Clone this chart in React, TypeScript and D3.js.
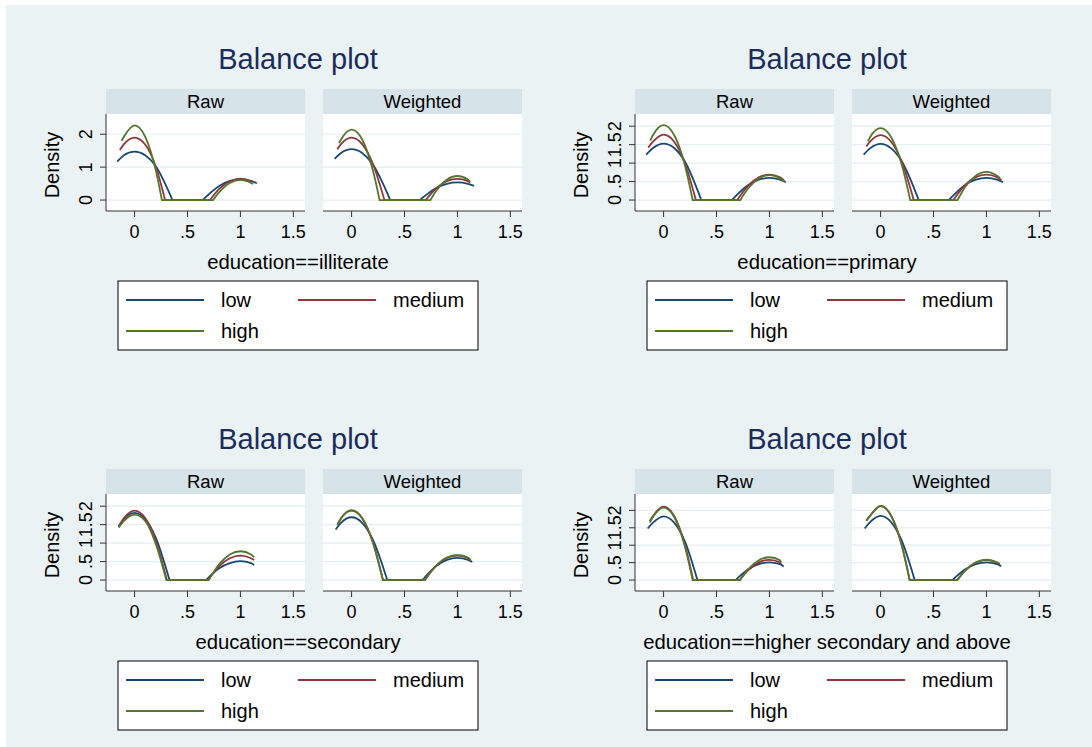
import * as d3 from "d3";

type Pt = [number, number];

// tick labels / categories
const xTicks = [0, 0.5, 1, 1.5];
const xTickLabels = ["0", ".5", "1", "1.5"];
const yTicksCoarse = [0, 1, 2];
const yTicksFine = [0, 0.5, 1, 1.5, 2];
const fmtY = (v: number) => (v === 0.5 ? ".5" : v === 1.5 ? "1.5" : String(v));
const levels = ["low", "medium", "high"];
const facets = ["Raw", "Weighted"];
const groupTitles = [
  "education==illiterate",
  "education==primary",
  "education==secondary",
  "education==higher secondary and above",
];

// densities: left bump ... zero, zero ... right bump
const illitRawLow: Pt[] = [[-0.164, 1.17], [-0.1, 1.36], [0, 1.47], [0.1, 1.36], [0.2, 1.03], [0.358, 0], [0.642, 0], [0.8, 0.43], [0.9, 0.58], [1, 0.63], [1.1, 0.58], [1.155, 0.51]];
const illitRawMed: Pt[] = [[-0.139, 1.52], [-0.1, 1.7], [0, 1.9], [0.1, 1.69], [0.2, 1.02], [0.288, 0], [0.712, 0], [0.8, 0.34], [0.9, 0.57], [1, 0.65], [1.1, 0.57], [1.11, 0.54]];
const illitRawHigh: Pt[] = [[-0.123, 1.8], [-0.1, 1.93], [0, 2.27], [0.1, 1.93], [0.2, 0.91], [0.258, 0], [0.742, 0], [0.8, 0.24], [0.9, 0.52], [1, 0.61], [1.1, 0.52], [1.12, 0.49]];
const illitWtLow: Pt[] = [[-0.16, 1.25], [-0.1, 1.43], [0, 1.55], [0.1, 1.43], [0.2, 1.085], [0.365, 0], [0.645, 0], [0.8, 0.365], [0.9, 0.493], [1, 0.535], [1.1, 0.493], [1.157, 0.43]];
const illitWtMed: Pt[] = [[-0.135, 1.54], [-0.1, 1.7], [0, 1.9], [0.1, 1.7], [0.2, 1.11], [0.31, 0], [0.7, 0], [0.8, 0.358], [0.9, 0.573], [1, 0.645], [1.1, 0.573], [1.12, 0.53]];
const illitWtHigh: Pt[] = [[-0.119, 1.73], [-0.1, 1.84], [0, 2.14], [0.1, 1.84], [0.2, 0.92], [0.265, 0], [0.745, 0], [0.8, 0.28], [0.9, 0.62], [1, 0.73], [1.1, 0.62], [1.12, 0.56]];

const primRawLow: Pt[] = [[-0.164, 1.23], [-0.1, 1.41], [0, 1.53], [0.1, 1.41], [0.2, 1.05], [0.356, 0], [0.644, 0], [0.8, 0.41], [0.9, 0.55], [1, 0.6], [1.1, 0.55], [1.155, 0.48]];
const primRawMed: Pt[] = [[-0.145, 1.42], [-0.1, 1.58], [0, 1.77], [0.1, 1.58], [0.2, 1.01], [0.305, 0], [0.695, 0], [0.8, 0.393], [0.9, 0.616], [1, 0.69], [1.1, 0.616], [1.136, 0.54]];
const primRawHigh: Pt[] = [[-0.126, 1.61], [-0.1, 1.76], [0, 2.03], [0.1, 1.76], [0.2, 0.956], [0.275, 0], [0.725, 0], [0.8, 0.318], [0.9, 0.586], [1, 0.675], [1.1, 0.586], [1.145, 0.5]];
const primWtLow: Pt[] = [[-0.16, 1.23], [-0.1, 1.4], [0, 1.52], [0.1, 1.4], [0.2, 1.05], [0.36, 0], [0.643, 0], [0.8, 0.41], [0.9, 0.553], [1, 0.6], [1.1, 0.553], [1.157, 0.484]];
const primWtMed: Pt[] = [[-0.135, 1.45], [-0.1, 1.58], [0, 1.76], [0.1, 1.58], [0.2, 1.04], [0.313, 0], [0.687, 0], [0.8, 0.41], [0.9, 0.62], [1, 0.69], [1.1, 0.62], [1.141, 0.54]];
const primWtHigh: Pt[] = [[-0.119, 1.59], [-0.1, 1.7], [0, 1.95], [0.1, 1.7], [0.2, 0.955], [0.28, 0], [0.727, 0], [0.8, 0.36], [0.9, 0.66], [1, 0.765], [1.1, 0.66], [1.128, 0.6]];

const secRawLow: Pt[] = [[-0.15, 1.44], [-0.1, 1.65], [0, 1.82], [0.1, 1.65], [0.2, 1.15], [0.33, 0], [0.675, 0], [0.8, 0.32], [0.9, 0.46], [1, 0.51], [1.1, 0.46], [1.13, 0.41]];
const secRawMed: Pt[] = [[-0.15, 1.46], [-0.1, 1.68], [0, 1.88], [0.1, 1.68], [0.2, 1.07], [0.305, 0], [0.695, 0], [0.8, 0.376], [0.9, 0.59], [1, 0.66], [1.1, 0.59], [1.13, 0.54]];
const secRawHigh: Pt[] = [[-0.15, 1.42], [-0.1, 1.6], [0, 1.77], [0.1, 1.6], [0.2, 0.98], [0.3, 0], [0.7, 0], [0.8, 0.43], [0.9, 0.69], [1, 0.78], [1.1, 0.69], [1.13, 0.62]];
const secWtLow: Pt[] = [[-0.15, 1.37], [-0.1, 1.55], [0, 1.7], [0.1, 1.55], [0.2, 1.1], [0.337, 0], [0.67, 0], [0.8, 0.38], [0.9, 0.545], [1, 0.6], [1.1, 0.545], [1.14, 0.49]];
const secWtMed: Pt[] = [[-0.134, 1.5], [-0.1, 1.67], [0, 1.88], [0.1, 1.67], [0.2, 1.03], [0.297, 0], [0.69, 0], [0.8, 0.39], [0.9, 0.6], [1, 0.665], [1.1, 0.6], [1.125, 0.53]];
const secWtHigh: Pt[] = [[-0.134, 1.49], [-0.1, 1.67], [0, 1.89], [0.1, 1.68], [0.2, 1.03], [0.295, 0], [0.693, 0], [0.8, 0.39], [0.9, 0.61], [1, 0.675], [1.1, 0.61], [1.125, 0.53]];

const highRawLow: Pt[] = [[-0.15, 1.48], [-0.1, 1.65], [0, 1.83], [0.1, 1.65], [0.2, 1.12], [0.32, 0], [0.68, 0], [0.8, 0.31], [0.9, 0.455], [1, 0.505], [1.1, 0.455], [1.134, 0.39]];
const highRawMed: Pt[] = [[-0.131, 1.69], [-0.1, 1.84], [0, 2.11], [0.1, 1.84], [0.2, 1.03], [0.28, 0], [0.72, 0], [0.8, 0.284], [0.9, 0.506], [1, 0.58], [1.1, 0.506], [1.11, 0.45]];
const highRawHigh: Pt[] = [[-0.131, 1.65], [-0.1, 1.81], [0, 2.08], [0.1, 1.81], [0.2, 0.98], [0.275, 0], [0.722, 0], [0.8, 0.316], [0.9, 0.57], [1, 0.655], [1.1, 0.57], [1.11, 0.51]];
const highWtLow: Pt[] = [[-0.15, 1.48], [-0.1, 1.66], [0, 1.84], [0.1, 1.66], [0.2, 1.13], [0.322, 0], [0.678, 0], [0.8, 0.31], [0.9, 0.455], [1, 0.505], [1.1, 0.455], [1.14, 0.4]];
const highWtMed: Pt[] = [[-0.134, 1.71], [-0.1, 1.84], [0, 2.12], [0.1, 1.84], [0.2, 1.0], [0.275, 0], [0.725, 0], [0.8, 0.27], [0.9, 0.5], [1, 0.58], [1.1, 0.5], [1.125, 0.46]];
const highWtHigh: Pt[] = [[-0.134, 1.7], [-0.1, 1.84], [0, 2.13], [0.1, 1.85], [0.2, 1.0], [0.275, 0], [0.725, 0], [0.8, 0.275], [0.9, 0.51], [1, 0.585], [1.1, 0.51], [1.125, 0.46]];

const panels = [
  { raw: [illitRawLow, illitRawMed, illitRawHigh], wt: [illitWtLow, illitWtMed, illitWtHigh], yDomain: [-0.333, 2.615], yTicks: yTicksCoarse },
  { raw: [primRawLow, primRawMed, primRawHigh], wt: [primWtLow, primWtMed, primWtHigh], yDomain: [-0.297, 2.33], yTicks: yTicksFine },
  { raw: [secRawLow, secRawMed, secRawHigh], wt: [secWtLow, secWtMed, secWtHigh], yDomain: [-0.297, 2.33], yTicks: yTicksFine },
  { raw: [highRawLow, highRawMed, highRawHigh], wt: [highWtLow, highWtMed, highWtHigh], yDomain: [-0.314, 2.47], yTicks: yTicksFine },
];

const COLORS = ["#1a476f", "#90353b", "#55752f"];
const FONT = "'Liberation Sans', Arial, Helvetica, sans-serif";
const BG = "#eaf2f3";
const STRIP = "#d6e3e8";
const GRID = "#e6eef1";
const AXIS = "#333333";

const OFFSETS = [
  [0, 0],
  [529, 0],
  [0, 380],
  [529, 380],
];
const FACET_X: [number, number][] = [
  [106, 305],
  [323, 522],
];
const PLOT_TOP = 114;
const PLOT_BOTTOM = 211;

function curvePath(pts: Pt[], x: d3.ScaleLinear<number, number>, y: d3.ScaleLinear<number, number>) {
  // split at the first zero so the kinks stay sharp
  const i = pts.findIndex((p) => p[1] === 0);
  const left = pts.slice(0, i + 1);
  const right = pts.slice(i + 1);
  const line = d3
    .line<Pt>()
    .x((d) => x(d[0]))
    .y((d) => y(d[1]))
    .curve(d3.curveMonotoneX);
  return (line(left) ?? "") + (line(right) ?? "").replace(/^M/, "L");
}

function Facet({ curves, fi, yDomain, yTicks }: { curves: Pt[][]; fi: number; yDomain: number[]; yTicks: number[] }) {
  const [x0, x1] = FACET_X[fi];
  const x = d3.scaleLinear().domain([-0.27, 1.61]).range([x0, x1]);
  const y = d3.scaleLinear().domain(yDomain).range([PLOT_BOTTOM, PLOT_TOP]);
  return (
    <g>
      <rect x={x0} y={89} width={x1 - x0} height={PLOT_TOP - 89} fill={STRIP} />
      <text x={(x0 + x1) / 2} y={108} textAnchor="middle" fontSize={18.5} fill="#000">
        {facets[fi]}
      </text>
      <rect x={x0} y={PLOT_TOP} width={x1 - x0} height={PLOT_BOTTOM - PLOT_TOP} fill="#fff" />
      {yTicks.map((t) => (
        <line key={t} x1={x0} x2={x1} y1={y(t)} y2={y(t)} stroke={GRID} strokeWidth={1.2} />
      ))}
      {curves.map((c, k) => (
        <path key={k} d={curvePath(c, x, y)} fill="none" stroke={COLORS[k]} strokeWidth={1.8} />
      ))}
      <line x1={x0} x2={x1} y1={PLOT_BOTTOM} y2={PLOT_BOTTOM} stroke={AXIS} strokeWidth={1} />
      {xTicks.map((t, k) => (
        <g key={t}>
          <line x1={x(t)} x2={x(t)} y1={PLOT_BOTTOM} y2={PLOT_BOTTOM + 6} stroke={AXIS} strokeWidth={1} />
          <text x={x(t)} y={238} textAnchor="middle" fontSize={18} fill="#000">
            {xTickLabels[k]}
          </text>
        </g>
      ))}
      {fi === 0 && (
        <g>
          <line x1={x0} x2={x0} y1={PLOT_TOP} y2={PLOT_BOTTOM} stroke={AXIS} strokeWidth={1} />
          {yTicks.map((t) => (
            <g key={t}>
              <line x1={x0 - 6} x2={x0} y1={y(t)} y2={y(t)} stroke={AXIS} strokeWidth={1} />
              <text
                transform={`translate(92,${y(t)}) rotate(-90)`}
                textAnchor="middle"
                fontSize={18}
                fill="#000"
              >
                {fmtY(t)}
              </text>
            </g>
          ))}
        </g>
      )}
    </g>
  );
}

function SubGraph({ idx }: { idx: number }) {
  const [ox, oy] = OFFSETS[idx];
  const p = panels[idx];
  return (
    <g transform={`translate(${ox},${oy})`}>
      <text x={298} y={69} textAnchor="middle" fontSize={29} fill="#1a2c5b">
        Balance plot
      </text>
      <Facet curves={p.raw} fi={0} yDomain={p.yDomain} yTicks={p.yTicks} />
      <Facet curves={p.wt} fi={1} yDomain={p.yDomain} yTicks={p.yTicks} />
      <text transform="translate(59,165) rotate(-90)" textAnchor="middle" fontSize={20} fill="#000">
        Density
      </text>
      <text x={298} y={269} textAnchor="middle" fontSize={20.3} fill="#000">
        {groupTitles[idx]}
      </text>
      <rect x={118} y={281} width={360} height={69} fill="#fff" stroke="#000" strokeWidth={1} />
      <line x1={126} x2={204} y1={300} y2={300} stroke={COLORS[0]} strokeWidth={2} />
      <text x={221} y={307} fontSize={20} fill="#000">{levels[0]}</text>
      <line x1={298} x2={376} y1={300} y2={300} stroke={COLORS[1]} strokeWidth={2} />
      <text x={393} y={307} fontSize={20} fill="#000">{levels[1]}</text>
      <line x1={126} x2={204} y1={331} y2={331} stroke={COLORS[2]} strokeWidth={2} />
      <text x={221} y={338} fontSize={20} fill="#000">{levels[2]}</text>
    </g>
  );
}

export default function App() {
  return (
    <svg
      width={1092}
      height={747}
      style={{ position: "absolute", left: 0, top: 0, fontFamily: FONT }}
    >
      <rect x={0} y={0} width={1092} height={747} fill="#fff" />
      <rect x={6} y={5} width={1086} height={742} fill={BG} />
      {panels.map((_, i) => (
        <SubGraph key={i} idx={i} />
      ))}
    </svg>
  );
}
